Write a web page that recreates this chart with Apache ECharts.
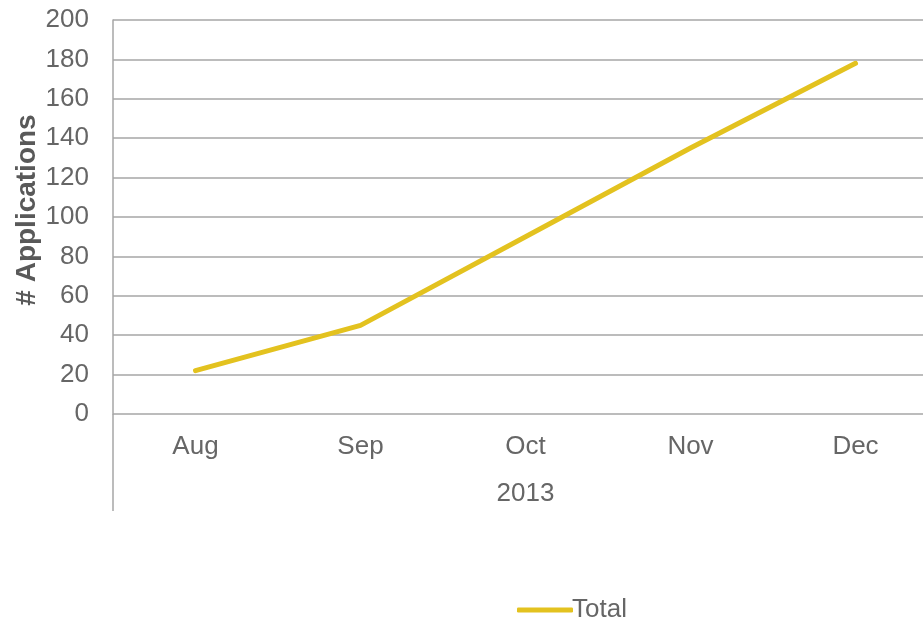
<!DOCTYPE html>
<html>
<head>
<meta charset="utf-8">
<script src="https://cdn.jsdelivr.net/npm/echarts@6/dist/echarts.min.js"></script>
<style>
  html, body { margin: 0; padding: 0; background: #fff; overflow: hidden; }
  #chart { width: 923px; height: 620px; }
</style>
</head>
<body>
<div id="chart"></div>
<script>
// Monthly cumulative application counts
const months = ['Aug', 'Sep', 'Oct', 'Nov', 'Dec'];
const years = ['2013'];
const totalApplications = [22, 45, 90, 135, 178];
const yTicks = { min: 0, max: 200, step: 20 };

const textColor = '#666666';
const gridColor = '#a6a6a6';
const lineColor = '#e3c21f';
const font = '"Liberation Sans", Arial, sans-serif';

const chart = echarts.init(document.getElementById('chart'), null, { renderer: 'canvas' });

chart.setOption({
  animation: false,
  backgroundColor: '#ffffff',
  textStyle: { fontFamily: font },
  // the plot runs past the right edge of the canvas, so the width is fixed
  grid: {
    left: 113, width: 825, top: 20, bottom: 206,
    containLabel: false, outerBoundsMode: 'none'
  },
  legend: {
    data: ['Total'],
    left: 512,
    top: 592,
    icon: 'roundRect',
    itemWidth: 56,
    itemHeight: 5,
    itemGap: 10,
    textStyle: { color: textColor, fontSize: 26, fontFamily: font, padding: [0, 0, 0, -6] }
  },
  xAxis: [
    {
      type: 'category',
      data: months,
      boundaryGap: true,
      axisLine: { show: false },
      axisTick: { show: false },
      axisLabel: { color: textColor, fontSize: 26, fontFamily: font, margin: 20 }
    },
    {
      type: 'category',
      data: years,
      position: 'bottom',
      boundaryGap: true,
      axisLine: { show: false },
      axisTick: { show: true, length: 97, lineStyle: { color: gridColor, width: 1.5 } },
      axisLabel: { color: textColor, fontSize: 26, fontFamily: font, margin: 67 }
    }
  ],
  yAxis: {
    type: 'value',
    min: yTicks.min,
    max: yTicks.max,
    interval: yTicks.step,
    name: '# Applications',
    nameLocation: 'middle',
    nameGap: 72,
    nameMoveOverlap: false,
    nameTextStyle: {
      color: '#595959', fontSize: 28, fontWeight: 'bold', fontFamily: font,
      padding: [0, 0, 0, 14]
    },
    axisLine: { show: true, lineStyle: { color: gridColor, width: 1.5 } },
    axisTick: { show: false },
    axisLabel: { color: textColor, fontSize: 26, fontFamily: font, margin: 24 },
    splitLine: { show: true, lineStyle: { color: gridColor, width: 1.5 } }
  },
  series: [
    {
      name: 'Total',
      type: 'line',
      xAxisIndex: 0,
      data: totalApplications,
      symbol: 'none',
      lineStyle: { color: lineColor, width: 5, cap: 'round', join: 'round' },
      itemStyle: { color: lineColor }
    }
  ]
});
</script>
</body>
</html>
